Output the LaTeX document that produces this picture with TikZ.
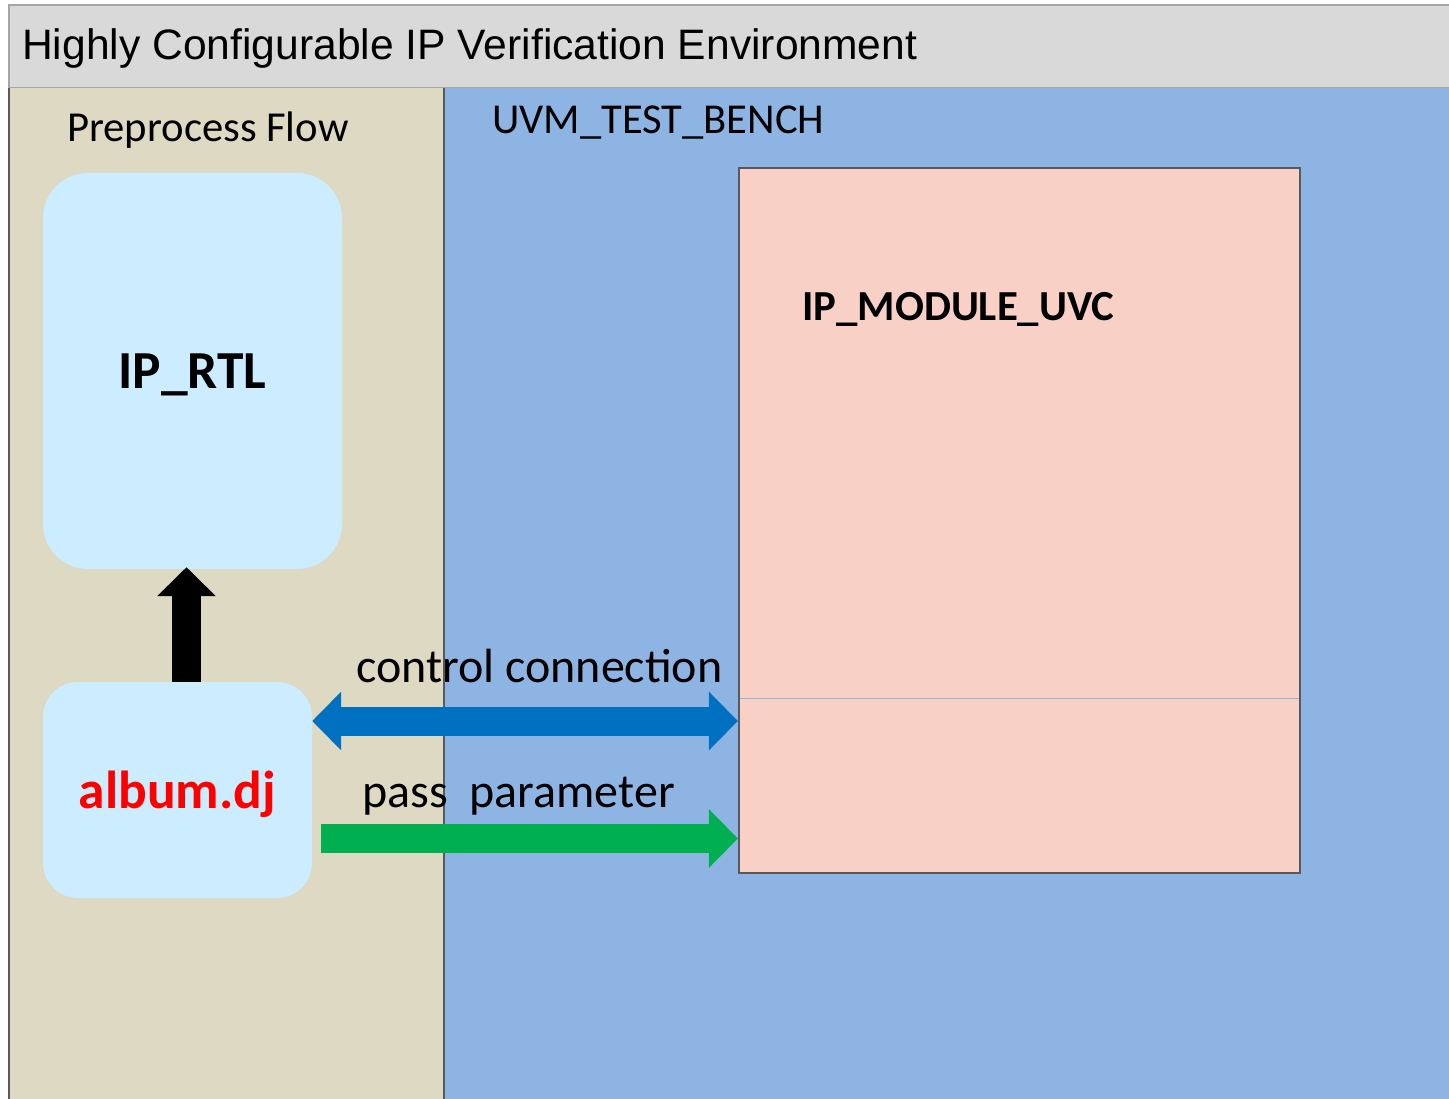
\documentclass[tikz,border=0pt]{standalone}
\usepackage{fontspec}
\setmainfont{Carlito}
\newfontfamily\arialfont{Liberation Sans}
\usetikzlibrary{arrows.meta}

\definecolor{titlegray}{HTML}{D9D9D9}
\definecolor{titleedge}{HTML}{A6A6A6}
\definecolor{tanbg}{HTML}{DDD9C3}
\definecolor{benchblue}{HTML}{8EB4E3}
\definecolor{boxblue}{HTML}{CCECFF}
\definecolor{uvcpink}{HTML}{F8D0C5}
\definecolor{edgegray}{HTML}{595959}
\definecolor{splitblue}{HTML}{8DB4E2}
\definecolor{ctlblue}{HTML}{0070C0}
\definecolor{paramgreen}{HTML}{00B050}

\newcommand{\lowered}[1]{\raisebox{-4pt}[\height][\depth]{#1}}

\tikzset{
  fs/.style={font=\fontsize{#1}{#1}\selectfont},
  softbox/.style={rectangle, rounded corners=#1, fill=boxblue, draw=none, inner sep=0pt},
  lbl/.style={inner sep=0pt, anchor=base west},
  fatarrow/.style={line width=29pt, line cap=butt},
  fathead/.tip={Triangle[length=29pt, width=57pt]},
}

\begin{document}
\begin{tikzpicture}[x=1pt, y=-1pt]
\useasboundingbox (0,0) rectangle (1449,1099);
\fill[white] (0,0) rectangle (1449,1099);

% title bar
\draw[fill=titlegray, draw=titleedge, line width=1.5pt] (9,5) rectangle (1460,88);
\node[lbl, font=\arialfont\fontsize{42.6}{42.6}\selectfont] (title) at (22,60)
  {Highly Configurable IP Verification Environment};

% preprocess panel and test bench panel
\fill[benchblue] (444,88) rectangle (1460,1110);
\fill[tanbg] (9,88) rectangle (444,1110);
\draw[edgegray, line width=2.2pt] (9,88) -- (9,1110);
\draw[edgegray, line width=2.2pt] (444,88) -- (444,1110);

\node[lbl, fs=42.7] (pre) at (67,142) {Preprocess Flow};
\node[lbl, fs=42.6] (tb) at (492,134) {UVM\_TEST\_BENCH};

% IP module UVC
\node[rectangle, fill=uvcpink, draw=edgegray, line width=2.2pt, inner sep=0pt,
      minimum width=561pt, minimum height=705pt] (uvc) at (1019.5,520.5) {};
\draw[splitblue, line width=1pt] (740,698) -- (1299,698);
\node[lbl, font=\bfseries\fontsize{42.8}{42.8}\selectfont] (uvclbl) at (802,321) {IP\_MODULE\_UVC};

% preprocess boxes
\node[softbox=45pt, minimum width=299pt, minimum height=396pt,
      font=\bfseries\fontsize{53.5}{53.5}\selectfont] (rtl) at (192.5,371) {\lowered{IP\_RTL}};
\node[softbox=35pt, minimum width=269pt, minimum height=216pt,
      font=\bfseries\fontsize{53.5}{53.5}\selectfont, text=red] (album) at (177.5,790) {\lowered{album.dj}};

% connectors
\draw[fatarrow, black, -{fathead}]
  ([xshift=9pt]album.north) coordinate (upA) -- ([yshift=2pt]upA |- rtl.south);
\draw[fatarrow, ctlblue, {fathead}-{fathead}]
  ([yshift=69pt]album.east) coordinate (ctlA) -- (uvc.west |- ctlA);
\draw[fatarrow, paramgreen, -{fathead}]
  ([xshift=9pt, yshift=-48.5pt]album.east) coordinate (parA) -- (uvc.west |- parA);

\node[lbl, fs=48] (ctllbl) at (356,682) {control connection};
\node[lbl, fs=48] (parlbl) at (362,807) {pass\ \ parameter};
\end{tikzpicture}
\end{document}
